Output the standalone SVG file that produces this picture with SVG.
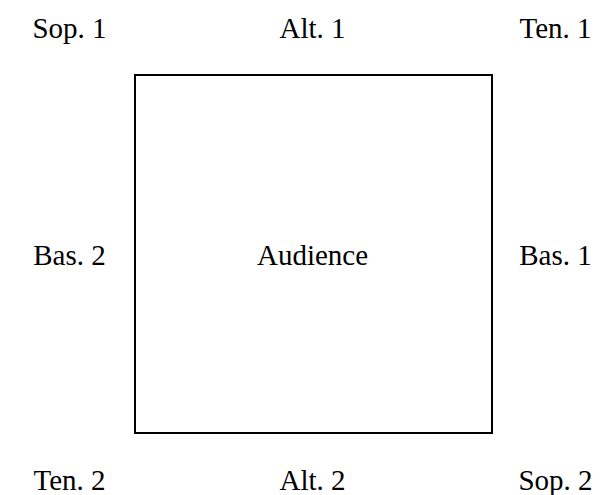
<svg xmlns="http://www.w3.org/2000/svg" width="602" height="495" viewBox="0 0 602 495">
<style>
text { font-family: "Liberation Serif", "Times New Roman", Tinos, "DejaVu Serif", serif; font-size: 29px; fill: #000; text-anchor: middle; }
.box { fill: #fff; stroke: #000; stroke-width: 2; }
</style>
<rect width="602" height="495" fill="#fff"/>
<g id="audience">
<rect class="box" x="135" y="75" width="357" height="358"/>
<text x="312.5" y="265" font-family="Liberation Serif, serif">Audience</text>
</g>
<g id="sop1"><text x="69.5" y="38">Sop. 1</text></g>
<g id="alt1"><text x="312.5" y="38">Alt. 1</text></g>
<g id="ten1"><text x="555.5" y="38">Ten. 1</text></g>
<g id="bas2"><text x="69.5" y="265">Bas. 2</text></g>
<g id="bas1"><text x="555.5" y="265">Bas. 1</text></g>
<g id="ten2"><text x="69.5" y="490">Ten. 2</text></g>
<g id="alt2"><text x="312.5" y="490">Alt. 2</text></g>
<g id="sop2"><text x="555.5" y="490">Sop. 2</text></g>
<g id="connectors"></g>
</svg>
